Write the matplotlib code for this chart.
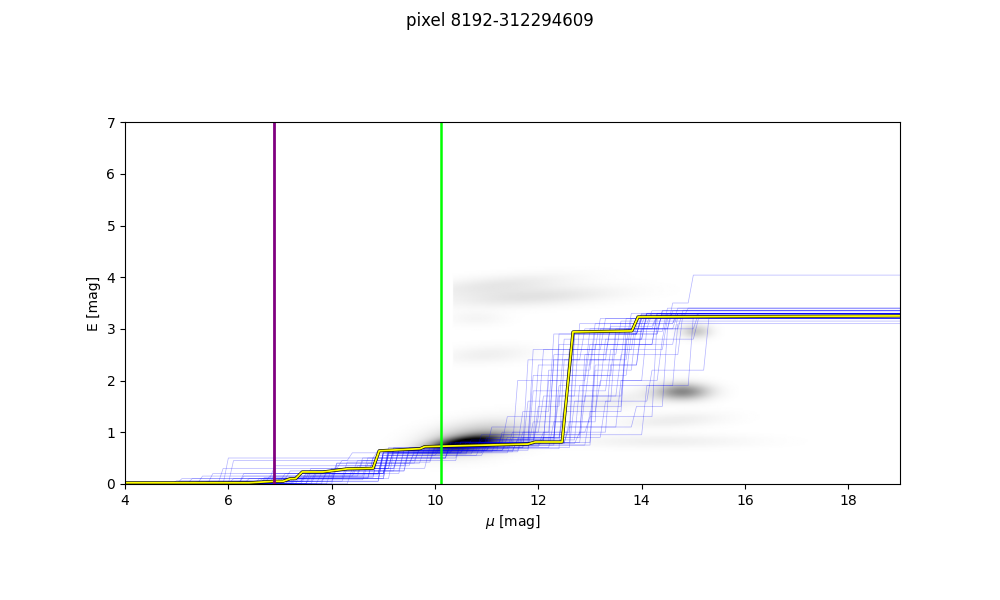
import numpy as np
import matplotlib
matplotlib.use("Agg")
import matplotlib.pyplot as plt

title = "pixel 8192-312294609"

# best fit reddening profile (mu, E)
best_mu = [4.0, 6.4, 6.9, 7.06, 7.2, 7.3, 7.43, 7.83, 8.3, 8.8, 8.92, 9.71, 9.8,
           11.8, 11.94, 12.46, 12.67, 13.81, 13.93, 19.0]
best_E = [0.02, 0.02, 0.05, 0.05, 0.1, 0.1, 0.23, 0.23, 0.29, 0.3, 0.64, 0.68, 0.72,
          0.77, 0.81, 0.81, 2.94, 2.96, 3.23, 3.25]

# sample profiles: list of steps (mu where the jump starts, E after it)
samples = [
    [(5.0, 0.05), (7.0, 0.2), (8.9, 0.6), (10.0, 0.75), (12.3, 2.9), (13.9, 3.25)],
    [(6.0, 0.1), (7.5, 0.3), (9.2, 0.65), (11.0, 0.85), (11.8, 2.1), (12.9, 3.0), (14.1, 3.3)],
    [(5.4, 0.15), (8.0, 0.4), (9.6, 0.7), (12.6, 1.6), (13.4, 2.9), (14.3, 3.35)],
    [(4.8, 0.03), (7.2, 0.15), (8.5, 0.45), (10.4, 0.8), (11.3, 1.3), (12.0, 2.6), (13.2, 3.2)],
    [(6.5, 0.1), (8.9, 0.55), (10.8, 0.8), (13.0, 2.2), (13.8, 3.1), (14.6, 3.3)],
    [(5.9, 0.5), (8.8, 0.65), (11.6, 1.0), (12.2, 2.4), (13.6, 3.2), (14.8, 3.4)],
    [(7.0, 0.05), (8.2, 0.3), (9.8, 0.72), (12.0, 0.9), (12.8, 2.5), (13.5, 3.15)],
    [(6.2, 0.2), (9.0, 0.6), (10.5, 0.75), (11.9, 1.5), (12.4, 2.8), (14.0, 3.3)],
    [(7.8, 0.25), (9.4, 0.7), (11.2, 0.95), (14.0, 1.9), (14.9, 3.25)],
    [(5.0, 0.1), (6.8, 0.35), (9.1, 0.65), (11.5, 0.85), (12.1, 2.0), (12.9, 2.7), (14.2, 3.3)],
    [(7.4, 0.15), (8.6, 0.5), (10.2, 0.78), (12.5, 1.2), (13.1, 3.0), (14.5, 3.35)],
    [(4.5, 0.02), (6.9, 0.1), (8.0, 0.35), (9.5, 0.65), (11.8, 1.8), (13.3, 2.6), (14.4, 3.2)],
    [(6.0, 0.45), (8.3, 0.6), (10.6, 0.85), (12.3, 2.7), (13.7, 3.3)],
    [(7.6, 0.2), (9.0, 0.7), (11.0, 1.1), (13.5, 2.0), (14.3, 2.8), (15.0, 3.2)],
    [(6.4, 0.05), (8.9, 0.6), (10.3, 0.8), (12.6, 2.9), (13.9, 3.2), (15.0, 3.3)],
    [(5.2, 0.1), (7.1, 0.25), (9.3, 0.68), (11.4, 1.0), (12.0, 1.7), (12.7, 3.1), (14.1, 3.35)],
    [(8.0, 0.4), (9.7, 0.7), (12.2, 1.2), (13.0, 2.3), (13.9, 3.0), (14.6, 3.3)],
    [(6.7, 0.15), (8.8, 0.55), (10.0, 0.7), (11.7, 2.4), (12.8, 3.0), (14.2, 3.25)],
    [(7.2, 0.1), (9.1, 0.6), (10.9, 0.9), (12.4, 1.5), (13.6, 3.0), (14.5, 3.5), (14.9, 4.04)],
    [(5.6, 0.2), (8.4, 0.45), (9.9, 0.75), (12.9, 1.4), (13.6, 2.8), (14.4, 3.3)],
    [(6.9, 0.05), (7.4, 0.2), (8.9, 0.6), (10.1, 0.72), (11.5, 2.0), (12.6, 2.9), (13.9, 3.2)],
    [(7.9, 0.3), (9.2, 0.62), (11.1, 0.85), (12.7, 1.9), (14.6, 3.1)],
    [(6.3, 0.1), (8.7, 0.5), (10.4, 0.82), (12.1, 2.2), (13.0, 2.95), (14.4, 3.4)],
    [(7.7, 0.2), (9.0, 0.65), (11.3, 0.9), (13.2, 1.6), (14.1, 2.2), (15.2, 3.2)],
    [(5.8, 0.3), (8.1, 0.45), (9.6, 0.68), (12.4, 2.4), (13.3, 3.1), (14.0, 3.3)],
    [(6.6, 0.1), (9.0, 0.58), (10.7, 0.8), (11.9, 1.3), (12.5, 2.6), (13.8, 3.25)],
    [(7.3, 0.2), (8.5, 0.5), (10.2, 0.75), (13.0, 2.7), (14.2, 3.3)],
    [(6.1, 0.05), (8.9, 0.62), (11.6, 0.9), (12.3, 1.7), (13.5, 2.5), (14.7, 3.3)],
    [(7.5, 0.25), (9.4, 0.65), (11.0, 0.8), (11.8, 2.6), (13.1, 3.2)],
    [(8.3, 0.3), (9.1, 0.65), (10.8, 0.95), (12.8, 2.1), (13.7, 2.9), (14.3, 3.35)],
    [(7.0, 0.1), (9.0, 0.6), (10.5, 0.8), (12.5, 1.1), (13.8, 1.5), (14.4, 3.0), (15.0, 3.3)],
    [(6.8, 0.2), (9.3, 0.65), (11.2, 1.0), (12.9, 1.3), (14.2, 3.2)],
    [(5.5, 0.05), (7.8, 0.2), (9.0, 0.55), (10.9, 0.75), (11.6, 1.4), (12.2, 2.9), (13.9, 3.28)],
    [(6.6, 0.08), (8.6, 0.4), (9.5, 0.6), (11.4, 0.9), (12.3, 1.9), (13.2, 2.8), (14.0, 3.3)],
    [(7.1, 0.12), (8.8, 0.58), (10.6, 0.78), (12.7, 1.0), (13.3, 2.3), (13.9, 3.1), (14.6, 3.4)],
    [(6.0, 0.05), (7.6, 0.25), (9.2, 0.68), (11.8, 1.2), (12.5, 2.1), (13.4, 3.0), (14.3, 3.28)],
    [(5.3, 0.04), (7.4, 0.18), (8.9, 0.62), (10.3, 0.75), (12.0, 1.0), (12.6, 2.95), (14.0, 3.22)],
    [(6.8, 0.1), (8.2, 0.42), (9.9, 0.7), (11.7, 1.6), (12.9, 2.4), (13.7, 3.2), (14.5, 3.3)],
    [(7.5, 0.15), (9.0, 0.62), (11.5, 0.88), (12.4, 1.4), (13.1, 2.0), (14.0, 3.0), (14.7, 3.36)],
    [(4.9, 0.06), (6.6, 0.12), (8.7, 0.5), (10.2, 0.8), (12.2, 2.5), (13.3, 3.05), (14.2, 3.26)],
    [(6.2, 0.15), (8.4, 0.35), (9.4, 0.65), (11.3, 0.8), (12.8, 1.7), (13.6, 2.7), (14.6, 3.25)],
    [(7.2, 0.05), (8.0, 0.3), (9.1, 0.7), (10.8, 0.85), (11.9, 2.3), (13.0, 3.1), (13.9, 3.3)],
]

# density blobs: centre mu, centre E, width mu, width E, tilt, strength, left cut
blob_mu = [10.6, 10.8, 14.8, 11.2, 11.9, 11.0, 15.05, 14.6, 14.4, 13.5, 10.8]
blob_E = [0.78, 0.88, 1.78, 3.85, 3.62, 2.5, 2.95, 1.22, 0.82, 1.6, 3.2]
blob_smu = [0.45, 0.65, 0.35, 1.0, 1.1, 0.6, 0.2, 0.7, 1.2, 0.8, 0.4]
blob_sE = [0.09, 0.2, 0.11, 0.12, 0.12, 0.12, 0.09, 0.1, 0.09, 0.12, 0.1]
blob_tilt = [0.12, 0.12, 0.0, 0.08, 0.05, 0.05, 0.0, 0.05, 0.0, 0.12, 0.0]
blob_amp = [1.0, 0.3, 0.45, 0.09, 0.11, 0.06, 0.22, 0.07, 0.06, 0.06, 0.04]
blob_cut = [4.0, 4.0, 4.0, 10.35, 10.35, 10.35, 4.0, 4.0, 4.0, 4.0, 10.35]

purple_mu = 6.88
green_mu = 10.12

# density image
gx = np.linspace(4, 19, 600)
gy = np.linspace(0, 7, 280)
X, Y = np.meshgrid(gx, gy)
dens = np.zeros_like(X)
for cx, cy, sx, sy, t, a, cut in zip(blob_mu, blob_E, blob_smu, blob_sE,
                                     blob_tilt, blob_amp, blob_cut):
    dy = Y - (cy + t * (X - cx))
    b = a * np.exp(-0.5 * ((X - cx) / sx) ** 2 - 0.5 * (dy / sy) ** 2)
    b[X < cut] = 0
    dens += b

fig, ax = plt.subplots(figsize=(10, 6), dpi=100)
ax.imshow(dens, origin="lower", extent=(4, 19, 0, 7), cmap="gray_r",
          vmin=0, vmax=1.0, aspect="equal", interpolation="bilinear")

for s in samples:
    xs, ys = [4.0], [0.0]
    for m, e in s:
        xs += [m, m + 0.1]
        ys += [ys[-1], e]
    xs.append(19.0)
    ys.append(ys[-1])
    ax.plot(xs, ys, color="blue", lw=0.5, alpha=0.3)

ax.plot(best_mu, best_E, color="black", lw=2.2)
ax.plot(best_mu, best_E, color="yellow", lw=1.3)

ax.axvline(purple_mu, color="purple", lw=2)
ax.axvline(green_mu, color="lime", lw=1.8)

ax.set_xlim(4, 19)
ax.set_ylim(0, 7)
ax.set_xlabel(r"$\mu$ [mag]")
ax.set_ylabel("E [mag]")
fig.suptitle(title)

fig.savefig("out.png")
